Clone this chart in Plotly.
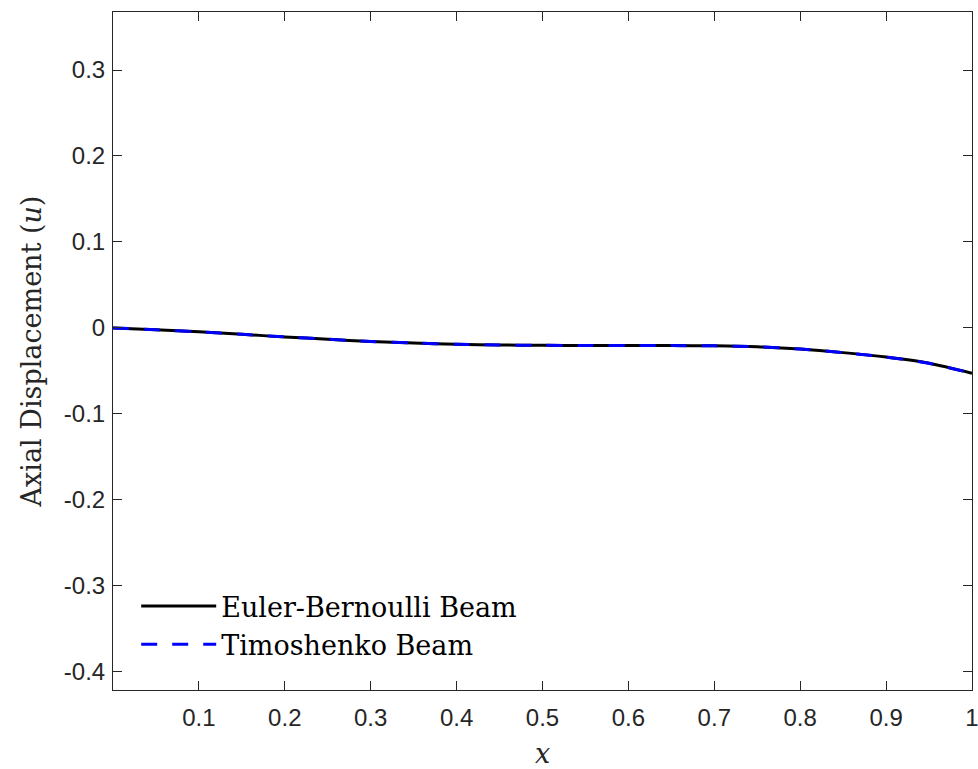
import plotly.graph_objects as go

# Data
x_vals = [0.0, 0.05, 0.1, 0.15, 0.2, 0.25, 0.3, 0.35, 0.4, 0.45, 0.5, 0.55, 0.6, 0.65, 0.7, 0.75, 0.8, 0.85, 0.9, 0.95, 1.0]
u_euler = [0.0, -0.0023, -0.0046, -0.0075, -0.0105, -0.0132, -0.0158, -0.0176, -0.0190, -0.0199, -0.0203, -0.0205, -0.0205, -0.0206, -0.0209, -0.0220, -0.0246, -0.0288, -0.0340, -0.0412, -0.0528]
u_timo = [0.0, -0.0023, -0.0046, -0.0075, -0.0105, -0.0132, -0.0158, -0.0176, -0.0190, -0.0199, -0.0203, -0.0205, -0.0205, -0.0206, -0.0209, -0.0220, -0.0246, -0.0288, -0.0340, -0.0412, -0.0528]

x_ticks = [0.1, 0.2, 0.3, 0.4, 0.5, 0.6, 0.7, 0.8, 0.9, 1.0]
x_ticktext = ["0.1", "0.2", "0.3", "0.4", "0.5", "0.6", "0.7", "0.8", "0.9", "1"]
y_ticks = [0.3, 0.2, 0.1, 0.0, -0.1, -0.2, -0.3, -0.4]
y_ticktext = ["0.3", "0.2", "0.1", "0", "-0.1", "-0.2", "-0.3", "-0.4"]

SERIF = "DejaVu Serif"
AX = "#262626"

fig = go.Figure()
fig.add_trace(go.Scatter(x=x_vals, y=u_euler, mode="lines", name="Euler-Bernoulli Beam",
                         line=dict(color="black", width=3, shape="spline", smoothing=0.8)))
fig.add_trace(go.Scatter(x=x_vals, y=u_timo, mode="lines", name="Timoshenko Beam",
                         line=dict(color="#0000FF", width=3, dash="16px,15px", shape="spline", smoothing=0.8)))

axis_common = dict(showline=True, linecolor=AX, linewidth=1, mirror="ticks",
                   ticks="inside", ticklen=9, tickwidth=1, tickcolor=AX,
                   showgrid=False, zeroline=False, ticklabeloverflow="allow",
                   automargin=False,
                   tickfont=dict(family="Liberation Sans", size=24, color=AX))

fig.update_xaxes(range=[0, 1], tickvals=x_ticks, ticktext=x_ticktext, ticklabelstandoff=6,
                 title=dict(text="<i>x</i>", font=dict(family=SERIF, size=27, color=AX), standoff=14),
                 **axis_common)
fig.update_yaxes(range=[-0.4213, 0.3675], tickvals=y_ticks, ticktext=y_ticktext, ticklabelstandoff=2,
                 title=dict(text="Axial Displacement (<i>u</i>)", font=dict(family=SERIF, size=27, color=AX), standoff=14),
                 **axis_common)

fig.update_layout(
    width=978, height=769,
    margin=dict(l=113, r=6, t=12, b=79),
    plot_bgcolor="white", paper_bgcolor="white",
    legend=dict(x=0.027, y=0.031, xanchor="left", yanchor="bottom",
                bgcolor="rgba(0,0,0,0)", borderwidth=0, itemwidth=75,
                font=dict(family=SERIF, size=27, color="black"), tracegroupgap=0),
    showlegend=True,
)

fig.write_html("out.html")
